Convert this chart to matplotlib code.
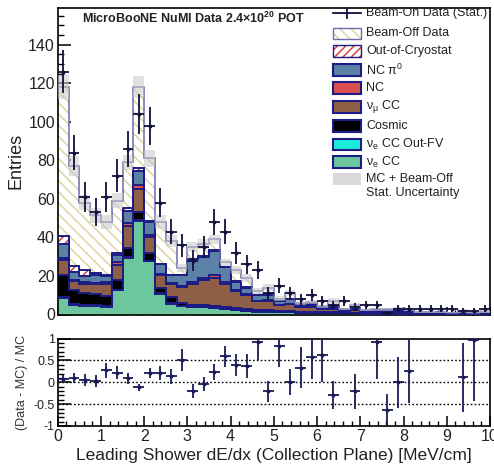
import numpy as np
import matplotlib
matplotlib.use("Agg")
import matplotlib.pyplot as plt
from matplotlib.patches import Rectangle
from matplotlib.lines import Line2D
from matplotlib.ticker import MultipleLocator, FixedLocator, FixedFormatter

plt.rcParams['font.family'] = ['Liberation Sans', 'DejaVu Sans']
plt.rcParams['mathtext.fontset'] = 'custom'
plt.rcParams['mathtext.rm'] = 'Liberation Sans'
plt.rcParams['mathtext.it'] = 'Liberation Sans:italic'
plt.rcParams['mathtext.bf'] = 'Liberation Sans:bold'
plt.rcParams['hatch.linewidth'] = 1.1

# ---------------- data ----------------
x_min, x_max, n_bins = 0.0, 10.0, 40

nue_cc = [8.5, 5, 4.5, 4.5, 4, 12.5, 29.5, 48.5, 27.5, 10.7,
          5.7, 4.3, 3.8, 3.8, 3.3, 2.8, 2.4, 1.9, 1.5, 1.5,
          1.2, 1.2, 1.0, 1.0, 0.8, 0.8, 0.6, 0.6, 0.5, 0.5,
          0.5, 0.5, 0.4, 0.3, 0.3, 0.25, 0.25, 0.25, 0.2, 0.2]
nue_cc_outfv = [0.5, 0.3, 0.2, 0.2, 0.2, 0.2, 0.5, 0.5, 0.5, 0.3,
                0.3, 0.2, 0.2, 0.2, 0.2, 0.2, 0.1, 0.1, 0.1, 0.1,
                0.1, 0.1, 0.1, 0.1, 0.1, 0.1, 0.05, 0.05, 0.05, 0.05,
                0.05, 0.05, 0.05, 0.03, 0.03, 0.03, 0.03, 0.03, 0.03, 0.03]
cosmic = [11.5, 7.4, 6.3, 5.8, 5.3, 5.3, 4.5, 4.0, 4.0, 2.7,
          3.0, 1.5, 1.0, 1.0, 1.0, 1.0, 1.0, 1.0, 0.7, 0.8,
          0.5, 0.5, 0.4, 0.4, 0.3, 0.3, 0.2, 0.2, 0.2, 0.2,
          0.2, 0.2, 0.2, 0.1, 0.1, 0.1, 0.1, 0.1, 0.1, 0.1]
numu_cc = [8, 4.8, 5, 5.5, 6.5, 7.7, 11.5, 12, 8, 6.8,
           7, 8.5, 11, 13, 14.5, 12, 8.5, 7, 4.5, 4.5,
           3, 3.5, 2.2, 2.2, 1.5, 1.8, 1.1, 1.3, 0.8, 0.9,
           0.9, 0.9, 0.8, 0.4, 0.35, 0.35, 0.3, 0.3, 0.3, 0.3]
nc = [1, 0.5, 1, 0.5, 0.8, 1.3, 1.5, 2, 1, 0.5,
      0.5, 0.5, 1, 1, 1.5, 1, 0.5, 0.5, 0.4, 0.4,
      0.3, 0.3, 0.2, 0.2, 0.2, 0.2, 0.1, 0.1, 0.1, 0.1,
      0.1, 0.1, 0.1, 0.05, 0.05, 0.05, 0.05, 0.05, 0.05, 0.05]
nc_pi0 = [7, 4, 3, 4, 3, 4, 6, 7.7, 7, 5,
          4, 5.5, 11.7, 11, 12.5, 7.5, 4.5, 3.5, 2.8, 3,
          1.8, 2.2, 1.2, 1.2, 0.8, 1, 0.6, 0.7, 0.4, 0.45,
          0.45, 0.45, 0.4, 0.2, 0.2, 0.15, 0.15, 0.15, 0.15, 0.15]
out_cryo = [4, 3, 3, 1, 0.7, 1, 1.8, 1.1, 0.5, 0.3,
            0.2, 0.2, 0.3, 0.3, 0.3, 0.3, 0.2, 0.2, 0.1, 0.1,
            0.1, 0.1, 0.1, 0.1, 0.05, 0.1, 0.05, 0.05, 0.05, 0.05,
            0.05, 0.05, 0.05, 0.02, 0.02, 0.02, 0.02, 0.02, 0.02, 0.02]
beam_off = [77.5, 52, 35, 30, 27.5, 27, 23.7, 42.2, 32.5, 21.7,
            17.3, 3.3, 6, 6.2, 5.7, 2.2, 5.8, 4.8, 1.9, 3.4,
            1.2, 3.1, 0.8, 1.1, 0.55, 2.7, 0.3, 2.0, 0.3, 0.35,
            0.45, 0.75, 0.4, 0.2, 0.15, 0.15, 0.1, 0.9, 0.17, 0.55]
mc_stat_err = [6, 5, 4, 3.8, 3.6, 3.8, 4, 5.5, 4.5, 3.5,
               3.2, 2, 2.5, 2.5, 2.5, 2, 2.2, 2, 1.5, 1.8,
               1.3, 1.6, 1, 1.1, 0.8, 1.4, 0.6, 1.2, 0.6, 0.6,
               0.7, 0.8, 0.6, 0.4, 0.4, 0.4, 0.3, 0.8, 0.4, 0.7]
beam_on = [126, 84, 61, 53, 61, 72, 86, 104, 98, 58,
           43, 36, 28, 35, 48, 43, 32, 26, 23, 11,
           15, 11, 8, 10, 7, 5, 7, 4, 5, 5,
           1, 3, 3, 3, 3, 3, 3, 2, 2, 3]

labels = ["ν$_\\mathregular{e}$ CC", "ν$_\\mathregular{e}$ CC Out-FV", "Cosmic",
          "ν$_\\mathregular{μ}$ CC", "NC", "NC π$^\\mathregular{0}$",
          "Out-of-Cryostat", "Beam-Off Data"]

# ---------------- style ----------------
navy = "#1c1c86"
text_c = "#222222"
total_c = "#6c6cae"
colors = ["#6cc79e", "#19ecd8", "#000000", "#8e5f46", "#dc5050", "#5b82a5", "white", "white"]
hatches = [None, None, None, None, None, None, "////", "\\\\\\"]
hatch_cols = [None, None, None, None, None, None, "#d84040", "#ddd5a0"]

edges = np.linspace(x_min, x_max, n_bins + 1)
centers = 0.5 * (edges[1:] + edges[:-1])
half_w = 0.5 * (edges[1] - edges[0])

layers = np.vstack([nue_cc, nue_cc_outfv, cosmic, numu_cc, nc, nc_pi0, out_cryo, beam_off])
cum = np.cumsum(layers, axis=0)
mc_total = cum[-1]
data = np.array(beam_on, dtype=float)
err_mc = np.array(mc_stat_err)

W, H = 494, 467
fig = plt.figure(figsize=(W / 100, H / 100), dpi=100)
ax = fig.add_axes([57.7 / W, 1 - 314.5 / H, (490 - 57.7) / W, (314.5 - 8) / H])
axr = fig.add_axes([57.7 / W, 1 - 426 / H, (490 - 57.7) / W, (426 - 338.5) / H])

# stack fills
for i in range(len(layers)):
    base = cum[i - 1] if i > 0 else np.zeros(n_bins)
    if hatches[i] is None:
        ax.stairs(cum[i], edges, baseline=base, fill=True, facecolor=colors[i],
                  edgecolor='none', linewidth=0, zorder=2)
    else:
        ax.stairs(cum[i], edges, baseline=base, fill=True, facecolor='white',
                  edgecolor=hatch_cols[i], hatch=hatches[i], linewidth=0, zorder=2)
# outlines
for i in range(len(layers) - 1):
    ax.stairs(cum[i], edges, baseline=None, color=navy, linewidth=1.4, zorder=3)
ax.stairs(mc_total, edges, baseline=None, color=total_c, linewidth=1.1, zorder=3)

# MC stat band
ax.bar(edges[:-1], 2 * err_mc, bottom=mc_total - err_mc, width=2 * half_w, align='edge',
       color="#c8c8c8", alpha=0.55, linewidth=0, zorder=4)

# data
ax.errorbar(centers, data, yerr=np.sqrt(data), xerr=half_w, fmt='o', ms=1.8,
            color="#10103c", elinewidth=1.3, capsize=0, zorder=5)

ax.set_xlim(x_min, x_max)
ax.set_ylim(0, 159)
ax.yaxis.set_major_locator(MultipleLocator(20))
ax.yaxis.set_minor_locator(MultipleLocator(5))
ax.xaxis.set_major_locator(MultipleLocator(1))
ax.xaxis.set_minor_locator(MultipleLocator(0.2))
ax.tick_params(axis='both', which='both', direction='in', top=False, right=False,
               colors='black', labelcolor=text_c)
ax.tick_params(axis='y', which='major', length=9, width=1.1, labelsize=11.5, pad=2)
ax.tick_params(axis='y', which='minor', length=4.5, width=1.0)
ax.tick_params(axis='x', which='major', length=6, width=1.1, labelbottom=False)
ax.tick_params(axis='x', which='minor', length=3.5, width=1.0)
for s in ax.spines.values():
    s.set_linewidth(1.2)
ax.set_ylabel("Entries", fontsize=13, color=text_c, labelpad=3)

ax.text((82 - 57.7) / (490 - 57.7), 1 - (18 - 8) / (314.5 - 8),
        "MicroBooNE NuMI Data 2.4×10$^{\\mathbf{20}}$ POT", transform=ax.transAxes,
        fontsize=9, fontweight='bold', color=text_c, va='center', ha='left')

# ---------------- legend (manual, figure pixel layout) ----------------
def fx(x):
    return x / W

def fy(y):
    return 1 - y / H

row_y = [13, 33.5, 51, 70, 88, 107, 126, 144.5, 162, 179, 193]
hx0, hw, hh, tx = 332.7, 28, 11.5, 366
leg_fs = 9
tf = fig.transFigure
# data entry
y0 = row_y[0]
fig.add_artist(Line2D([fx(hx0), fx(hx0 + hw)], [fy(y0), fy(y0)], color="#10103c", lw=1.3,
                      transform=tf))
fig.add_artist(Line2D([fx(hx0 + hw / 2)] * 2, [fy(y0 - 5), fy(y0 + 5)], color="#10103c",
                      lw=1.3, transform=tf))
fig.text(fx(tx), fy(y0), "Beam-On Data (Stat.)", fontsize=leg_fs, color=text_c,
         va='center', ha='left')
order = [7, 6, 5, 4, 3, 2, 1, 0]
for k, i in enumerate(order):
    yc = row_y[k + 1]
    xy = (fx(hx0), fy(yc + hh / 2))
    if hatches[i] is None:
        fig.add_artist(Rectangle(xy, hw / W, hh / H, transform=tf, facecolor=colors[i],
                                 edgecolor=navy, linewidth=1.5))
    else:
        fig.add_artist(Rectangle(xy, hw / W, hh / H, transform=tf, facecolor='white',
                                 edgecolor=hatch_cols[i], hatch=hatches[i], linewidth=0))
        fig.add_artist(Rectangle(xy, hw / W, hh / H, transform=tf, facecolor='none',
                                 edgecolor=(total_c if i == 7 else navy), linewidth=1.0))
    fig.text(fx(tx), fy(yc), labels[i], fontsize=leg_fs, color=text_c, va='center', ha='left')
yc = row_y[9]
fig.add_artist(Rectangle((fx(hx0), fy(yc + hh / 2)), hw / W, hh / H, transform=tf,
                         facecolor="#dadada", edgecolor='none'))
fig.text(fx(tx), fy(row_y[9]), "MC + Beam-Off", fontsize=leg_fs, color=text_c,
         va='center', ha='left')
fig.text(fx(tx), fy(row_y[10]), "Stat. Uncertainty", fontsize=leg_fs, color=text_c,
         va='center', ha='left')

# ---------------- ratio panel ----------------
ratio = data / mc_total - 1
ratio_err = np.sqrt(data) / mc_total
show = (ratio >= -1) & (ratio <= 1)
for yv in (0.5, 0, -0.5):
    axr.axhline(yv, color='black', ls=(0, (1.2, 1.6)), lw=1.0, zorder=1)
axr.errorbar(centers[show], ratio[show], yerr=ratio_err[show], xerr=half_w, fmt='o', ms=1.8,
             color="#1a1a58", elinewidth=1.3, capsize=0, zorder=3)
axr.set_xlim(x_min, x_max)
axr.set_ylim(-1, 1)
axr.yaxis.set_major_locator(FixedLocator([-1, -0.5, 0, 0.5, 1]))
axr.yaxis.set_major_formatter(FixedFormatter(["-1", "-0.5", "0", "0.5", "1"]))
axr.yaxis.set_minor_locator(MultipleLocator(0.1))
axr.xaxis.set_major_locator(MultipleLocator(1))
axr.xaxis.set_minor_locator(MultipleLocator(0.2))
axr.tick_params(axis='both', which='both', direction='in', top=False, right=False,
                labelcolor=text_c)
axr.tick_params(axis='y', which='major', length=9, width=1.1, labelsize=9, pad=2)
axr.tick_params(axis='y', which='minor', length=4, width=1.0)
axr.tick_params(axis='x', which='major', length=7, width=1.1, labelsize=11.5, pad=2)
axr.tick_params(axis='x', which='minor', length=3.5, width=1.0)
for s in axr.spines.values():
    s.set_linewidth(1.2)
axr.set_ylabel("(Data - MC) / MC", fontsize=9, color="#333333", labelpad=4)
axr.set_xlabel("Leading Shower dE/dx (Collection Plane) [MeV/cm]", fontsize=12.5,
               color=text_c, labelpad=3)

fig.savefig("out.png", dpi=100)
